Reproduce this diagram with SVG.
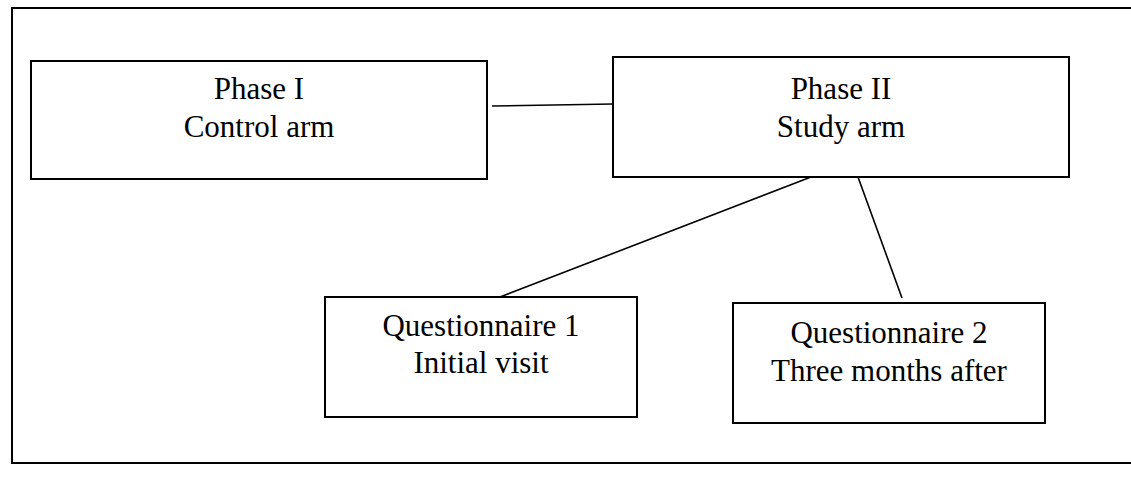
<svg xmlns="http://www.w3.org/2000/svg" width="1131" height="477" viewBox="0 0 1131 477">
<style>
.box{fill:#fff;stroke:#000;stroke-width:2}
.frame{fill:none;stroke:#000;stroke-width:2}
.conn line{stroke:#000;stroke-width:1.6}
text{font-family:"Liberation Serif","Times New Roman",serif;font-size:31px;fill:#000;text-anchor:middle}
</style>
<rect width="1131" height="477" fill="#fff"/>
<g id="frame"><polyline class="frame" points="1131,8 12,8 12,463 1131,463"/></g>
<g id="connectors" class="conn">
<line x1="492" y1="106" x2="613" y2="104"/>
<line x1="811" y1="177" x2="500" y2="297"/>
<line x1="858" y1="177" x2="902" y2="298"/>
</g>
<g id="phase1"><rect class="box" x="31" y="61" width="456" height="118"/><text x="259" y="99">Phase I</text><text x="259" y="137">Control arm</text></g>
<g id="phase2"><rect class="box" x="613" y="57" width="456" height="120"/><text x="841" y="99">Phase II</text><text x="841" y="137">Study arm</text></g>
<g id="q1"><rect class="box" x="325" y="297" width="312" height="120"/><text x="481" y="336">Questionnaire 1</text><text x="481" y="373">Initial visit</text></g>
<g id="q2"><rect class="box" x="733" y="303" width="312" height="120"/><text x="889" y="343">Questionnaire 2</text><text x="889" y="381">Three months after</text></g>
</svg>
